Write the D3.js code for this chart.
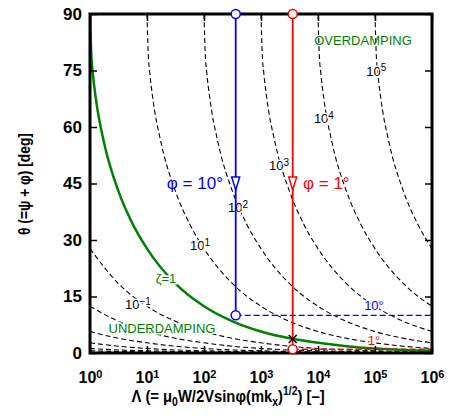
<!DOCTYPE html>
<html>
<head>
<meta charset="utf-8">
<script src="https://cdn.jsdelivr.net/npm/d3@7"></script>
<style>
  body { margin: 0; background: #fff; }
  svg { display: block; font-family: "Liberation Sans", Arial, sans-serif; }
</style>
</head>
<body>
<div id="chart"></div>
<script>
"use strict";

// axis ticks
const lambdaTicks = [1, 10, 100, 1e3, 1e4, 1e5, 1e6];
const lambdaExp = ["0", "1", "2", "3", "4", "5", "6"];
const thetaTicks = [0, 15, 30, 45, 60, 75, 90];

// dashed contour curves, [Λ, θ in deg]
const c1e5 = [[1e5, 90], [1.047e5, 80], [1.122e5, 74.2], [1.259e5, 67.8], [1.778e5, 55.6], [3.162e5, 42.9], [5.623e5, 34.2], [1e6, 27.7]];
const c1e4 = [[1e4, 90], [1.047e4, 80], [1.122e4, 74.2], [1.259e4, 67.8], [1.778e4, 55.6], [3.162e4, 42.9], [5.623e4, 34.2], [1e5, 27.7], [3.162e5, 18.4], [1e6, 12.4]];
const c1e3 = [[1e3, 90], [1047, 80], [1122, 74.2], [1259, 67.8], [1778, 55.6], [3162, 42.9], [5623, 34.2], [1e4, 27.7], [3.162e4, 18.4], [1e5, 12.4], [3.162e5, 8.4], [1e6, 5.7]];
const c1e2 = [[100, 90], [104.7, 80], [112.2, 74.2], [125.9, 67.8], [177.8, 55.6], [316.2, 42.9], [562.3, 34.2], [1e3, 27.7], [3162, 18.4], [1e4, 12.4], [3.162e4, 8.4], [1e5, 5.7], [3.162e5, 3.9], [1e6, 2.7]];
const c1e1 = [[10, 90], [10.47, 80], [11.22, 74.2], [12.59, 67.8], [17.78, 55.6], [31.62, 42.9], [56.23, 34.2], [100, 27.7], [316.2, 18.4], [1e3, 12.4], [3162, 8.4], [1e4, 5.7], [3.162e4, 3.9], [1e5, 2.7], [3.162e5, 1.8], [1e6, 1.2]];
const c1em1 = [[1, 27.7], [3.162, 18.4], [10, 12.4], [31.62, 8.4], [100, 5.7], [316.2, 3.9], [1e3, 2.7], [3162, 1.8], [1e4, 1.2], [3.162e4, 0.8], [1e5, 0.6], [3.162e5, 0.4], [1e6, 0.3]];
const c1em2 = [[1, 12.4], [3.162, 8.4], [10, 5.7], [31.62, 3.9], [100, 2.7], [316.2, 1.8], [1e3, 1.2], [3162, 0.8], [1e4, 0.6], [3.162e4, 0.4], [1e5, 0.3], [1e6, 0.1]];
const c1em3 = [[1, 5.7], [3.162, 3.9], [10, 2.7], [31.62, 1.8], [100, 1.2], [316.2, 0.8], [1e3, 0.6], [3162, 0.4], [1e4, 0.3], [1e5, 0.1], [1e6, 0.06]];
const c1em4 = [[1, 2.7], [3.162, 1.8], [10, 1.2], [31.62, 0.8], [100, 0.6], [316.2, 0.4], [1e3, 0.3], [1e4, 0.1], [1e6, 0.03]];
const c1em5 = [[1, 1.2], [3.162, 0.8], [10, 0.6], [31.62, 0.4], [100, 0.3], [1e3, 0.1], [1e6, 0.01]];
const c1em6 = [[1, 0.6], [3.162, 0.4], [10, 0.3], [100, 0.1], [1e6, 0.01]];

// green zeta = 1 curve
const zetaOne = [[1, 90], [1.047, 80], [1.122, 74.2], [1.259, 67.8], [1.778, 55.6], [3.162, 42.9], [5.623, 34.2], [10, 27.7], [31.62, 18.4], [100, 12.4], [316.2, 8.4], [1e3, 5.7], [3162, 3.9], [1e4, 2.7], [3.162e4, 1.8], [1e5, 1.2], [3.162e5, 0.8], [1e6, 0.6]];

// curve labels: exponent text and where it sits [Λ, θ]
const contourLabels = [
  { exp: "5", at: [1.05e5, 75] },
  { exp: "4", at: [1.27e4, 62.4] },
  { exp: "3", at: [2070, 49.9] },
  { exp: "2", at: [395, 38.8] },
  { exp: "1", at: [85, 28.7] },
  { exp: "\u22121", at: [6.95, 13.0] }
];

// phi paths (blue 10°, red 1°)
const phiCases = [
  { name: "\u03c6 = 10\u00b0", short: "10\u00b0", lambda: 360, thetaEnd: 10, color: "#0000ff", anchor: "end", labelAt: [215, 45], shortAt: [9.6e4, 12.5] },
  { name: "\u03c6 = 1\u00b0", short: "1\u00b0", lambda: 3600, thetaEnd: 1, color: "#ff0000", anchor: "start", labelAt: [5460, 45], shortAt: [9.6e4, 3.45] }
];
const crossPoint = [3600, 3.7];

function draw() {
  const width = 451, height = 416;
  const left = 90, right = 432, top = 14, bottom = 353;

  const svg = d3.select("#chart").append("svg")
    .attr("width", width).attr("height", height);

  const x = d3.scaleLog().domain([1, 1e6]).range([left, right]);
  const y = d3.scaleLinear().domain([0, 90]).range([bottom, top]);

  svg.append("clipPath").attr("id", "plotclip")
    .append("rect").attr("x", left).attr("y", top)
    .attr("width", right - left).attr("height", bottom - top);

  const plot = svg.append("g").attr("clip-path", "url(#plotclip)");
  const line = d3.line().x(d => x(d[0])).y(d => y(d[1])).curve(d3.curveMonotoneX);

  // dashed contours
  const contours = [c1e5, c1e4, c1e3, c1e2, c1e1, c1em1, c1em2, c1em3, c1em4, c1em5, c1em6];
  plot.append("g").selectAll("path").data(contours).join("path")
    .attr("d", line)
    .attr("fill", "none")
    .attr("stroke", "#000")
    .attr("stroke-width", 1.1)
    .attr("stroke-dasharray", "5,3");

  // green zeta=1
  plot.append("path").datum(zetaOne)
    .attr("d", line)
    .attr("fill", "none")
    .attr("stroke", "#008000")
    .attr("stroke-width", 2.5);

  // contour labels with white halo
  const lab = svg.append("g").attr("font-size", 13).attr("fill", "#000");
  contourLabels.forEach(c => {
    const t = lab.append("text")
      .attr("x", x(c.at[0])).attr("y", y(c.at[1]))
      .attr("dy", "0.4em")
      .attr("text-anchor", "middle")
      .attr("stroke", "#fff").attr("stroke-width", 3)
      .attr("paint-order", "stroke");
    t.append("tspan").text("10");
    t.append("tspan").attr("dy", "-0.45em").attr("font-size", 10).text(c.exp);
  });

  // phi lines
  phiCases.forEach(p => {
    const px = x(p.lambda);
    svg.append("line")
      .attr("x1", x(p.lambda)).attr("x2", x(1e6))
      .attr("y1", y(p.thetaEnd)).attr("y2", y(p.thetaEnd))
      .attr("stroke", p.color).attr("stroke-width", 1.4)
      .attr("stroke-dasharray", "6,3");
    svg.append("line")
      .attr("x1", px).attr("x2", px)
      .attr("y1", y(90)).attr("y2", y(p.thetaEnd))
      .attr("stroke", p.color).attr("stroke-width", 1.8);
    svg.append("path")
      .attr("d", "M-4,-6.5L4,-6.5L0,6.5Z")
      .attr("transform", `translate(${px},${y(45)})`)
      .attr("fill", "#fff").attr("stroke", p.color).attr("stroke-width", 1.5);
    svg.append("text")
      .attr("x", x(p.labelAt[0])).attr("y", y(p.labelAt[1]))
      .attr("dy", "0.35em")
      .attr("text-anchor", p.anchor)
      .attr("font-size", 17).attr("fill", p.color)
      .text(p.name);
    svg.append("text")
      .attr("x", x(p.shortAt[0])).attr("y", y(p.shortAt[1]))
      .attr("dy", "0.35em").attr("text-anchor", "middle")
      .attr("font-size", 13).attr("fill", p.color)
      .attr("stroke", "#fff").attr("stroke-width", 3).attr("paint-order", "stroke")
      .text(p.short);
  });

  // cross on zeta=1
  svg.append("path")
    .attr("d", "M-4,-4L4,4M-4,4L4,-4")
    .attr("transform", `translate(${x(crossPoint[0])},${y(crossPoint[1])})`)
    .attr("stroke", "#000").attr("stroke-width", 1.5);

  // damping labels
  svg.append("text").attr("x", x(6.16e4)).attr("y", y(83.1)).attr("dy", "0.35em")
    .attr("text-anchor", "middle").attr("font-size", 13).attr("fill", "#008000")
    .text("OVERDAMPING");
  svg.append("text").attr("x", x(18.3)).attr("y", y(6.6)).attr("dy", "0.35em")
    .attr("text-anchor", "middle").attr("font-size", 13).attr("fill", "#008000")
    .attr("stroke", "#fff").attr("stroke-width", 3).attr("paint-order", "stroke")
    .text("UNDERDAMPING");
  svg.append("text").attr("x", x(21.5)).attr("y", y(19.9)).attr("dy", "0.35em")
    .attr("text-anchor", "middle").attr("font-size", 13).attr("fill", "#008000")
    .attr("stroke", "#fff").attr("stroke-width", 3).attr("paint-order", "stroke")
    .text("\u03b6=1");

  // axes
  const xb = svg.append("g").attr("transform", `translate(0,${bottom})`)
    .call(d3.axisBottom(x).tickValues(lambdaTicks).tickSizeInner(-7).tickSizeOuter(0).tickFormat(""));
  svg.append("g").attr("transform", `translate(0,${top})`)
    .call(d3.axisTop(x).tickValues(lambdaTicks).tickSizeInner(-7).tickSizeOuter(0).tickFormat(""));
  svg.append("g").attr("transform", `translate(${left},0)`)
    .call(d3.axisLeft(y).tickValues(thetaTicks).tickSizeInner(-7).tickSizeOuter(0).tickPadding(8))
    .call(g => g.selectAll("text").attr("font-size", 17).attr("font-weight", "bold")
      .attr("font-family", "'Liberation Sans', Arial, sans-serif").attr("fill", "#000"));
  svg.append("g").attr("transform", `translate(${right},0)`)
    .call(d3.axisRight(y).tickValues(thetaTicks).tickSizeInner(-7).tickSizeOuter(0).tickFormat(""));
  svg.selectAll(".domain").remove();
  svg.selectAll(".tick line").attr("stroke", "#000").attr("stroke-width", 1.5);

  xb.selectAll(".tick").each(function (d, i) {
    const t = d3.select(this).append("text")
      .attr("y", 30).attr("text-anchor", "middle")
      .attr("font-size", 16).attr("font-weight", "bold").attr("fill", "#000")
      .attr("font-family", "'Liberation Sans', Arial, sans-serif");
    t.append("tspan").text("10");
    t.append("tspan").attr("dy", "-0.45em").attr("font-size", 11).text(lambdaExp[i]);
  });

  // frame
  svg.append("rect").attr("x", left).attr("y", top)
    .attr("width", right - left).attr("height", bottom - top)
    .attr("fill", "none").attr("stroke", "#000").attr("stroke-width", 3);

  // circles on top of frame
  phiCases.forEach(p => {
    svg.selectAll(null).data([90, p.thetaEnd]).join("circle")
      .attr("cx", x(p.lambda)).attr("cy", d => y(d)).attr("r", 4.5)
      .attr("fill", "#fff").attr("stroke", p.color).attr("stroke-width", 1.5);
  });

  // axis titles (squeezed horizontally, like the original's narrow lettering)
  const xt = svg.append("text").attr("transform", "translate(228,402) scale(0.87,1)")
    .attr("text-anchor", "middle").attr("font-size", 17).attr("font-weight", "bold");
  xt.append("tspan").text("\u039b (= \u03bc");
  xt.append("tspan").attr("dy", 4).attr("font-size", 12).text("0");
  xt.append("tspan").attr("dy", -4).text("W/2Vsin\u03c6(mk");
  xt.append("tspan").attr("dy", 4).attr("font-size", 12).text("x");
  xt.append("tspan").attr("dy", -4).text(")");
  xt.append("tspan").attr("dy", -7).attr("font-size", 12).text("1/2");
  xt.append("tspan").attr("dy", 7).text(") [\u2013]");

  svg.append("text").attr("transform", "translate(30,184) rotate(-90) scale(0.81,1)")
    .attr("text-anchor", "middle").attr("font-size", 17).attr("font-weight", "bold")
    .text("\u03b8 (=\u03c8 + \u03c6) [deg]");
}

draw();
</script>
</body>
</html>
